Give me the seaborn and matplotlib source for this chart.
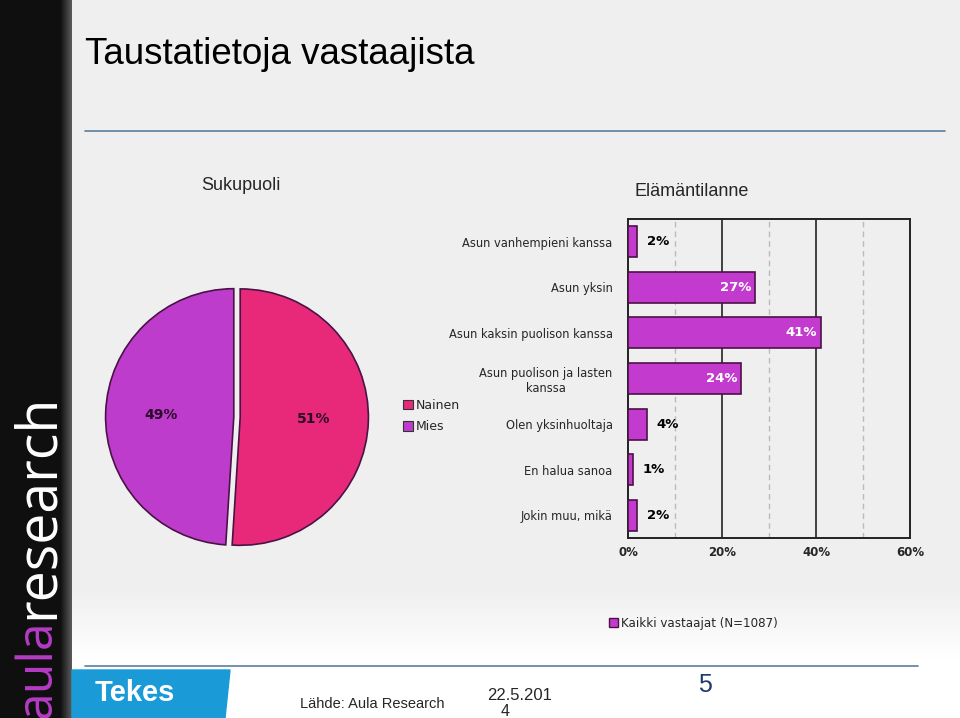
import numpy as np
import matplotlib
matplotlib.use("Agg")
import matplotlib.pyplot as plt
import seaborn as sns
from matplotlib.patches import Rectangle, Polygon

# Data
gender_labels = ['Nainen', 'Mies']
gender_values = [51, 49]
gender_colors = ['#e8297a', '#be3ccb']

life_cats = ['Asun vanhempieni kanssa', 'Asun yksin', 'Asun kaksin puolison kanssa',
             'Asun puolison ja lasten\nkanssa', 'Olen yksinhuoltaja', 'En halua sanoa',
             'Jokin muu, mikä']
life_values = [2, 27, 41, 24, 4, 1, 2]
xticks = [0, 20, 40, 60]

W, H = 960, 718

sns.set_theme(style='white')
plt.rcParams['font.family'] = ['DejaVu Sans']


def box(x0, y0, x1, y1):
    # pixel box (top-left origin) -> figure fraction rect
    return [x0 / W, 1 - y1 / H, (x1 - x0) / W, (y1 - y0) / H]


fig = plt.figure(figsize=(W / 100, H / 100), dpi=100)

# background
bg = fig.add_axes([0, 0, 1, 1])
bg.axis('off')
grad = np.linspace(0, 1, 200).reshape(-1, 1)
bg.imshow(np.clip((grad - 0.82) / 0.1, 0, 1), cmap=matplotlib.colors.LinearSegmentedColormap.from_list(
    'g', ['#efefef', '#ffffff']), extent=[72, W, H, 0], aspect='auto', zorder=0)
# dark side strip
strip = np.tile(np.concatenate([np.full(60, 0.06), np.linspace(0.06, 0.35, 12)]), (10, 1))
bg.imshow(strip, cmap='gray', vmin=0, vmax=1, extent=[0, 72, H, 0], aspect='auto', zorder=1)
bg.set_xlim(0, W)
bg.set_ylim(H, 0)
bg.text(38, 619, 'aula', rotation=90, color='#b43cc4', fontsize=36, ha='center', va='top',
        family='Open Sans', zorder=3)
bg.text(38, 619, 'research', rotation=90, color='white', fontsize=40, ha='center', va='bottom',
        family='Open Sans', zorder=3)

# title and lines
bg.text(85, 55, 'Taustatietoja vastaajista', fontsize=26.5, color='black', va='center',
        family='Liberation Sans')
bg.plot([85, 945], [131, 131], color='#5b7f9e', lw=1.2)
bg.plot([85, 918], [666, 666], color='#5b7f9e', lw=1.2)

# footer
bg.add_patch(Polygon([[72, 670], [230, 670], [225, 718], [72, 718]], closed=True,
                     color='#1a9ad6', zorder=2))
bg.text(95, 693, 'Tekes', color='white', fontsize=21, fontweight='bold', va='center',
        family='Liberation Sans', zorder=3)
bg.text(300, 704, 'Lähde: Aula Research', fontsize=10.5, va='center', family='Liberation Sans')
bg.text(520, 695, '22.5.201', fontsize=12, ha='center', va='center', family='Liberation Sans')
bg.text(505, 712, '4', fontsize=11.5, ha='center', va='center', family='Liberation Sans')
bg.text(705, 685, '5', fontsize=18, color='#1f3a6e', ha='center', va='center',
        family='Liberation Sans')

# pie chart
bg.text(241, 186, 'Sukupuoli', fontsize=13, ha='center', va='center', family='Liberation Sans')
axp = fig.add_axes(box(87, 267, 387, 567))
wedges, _, autotexts = axp.pie(gender_values, colors=gender_colors, startangle=90, counterclock=False,
                               explode=[0.025, 0.025], autopct='%d%%', pctdistance=0.57,
                               wedgeprops=dict(edgecolor='#4a1245', linewidth=1.2),
                               textprops=dict(fontsize=10, fontweight='bold', color='#2a0a2a'))
axp.set_xlim(-1.17, 1.17)
axp.set_ylim(-1.17, 1.17)
axp.set_aspect('equal')
leg = axp.legend(wedges, gender_labels, loc='center left', bbox_to_anchor=(397 / W, 1 - 416 / H),
                 bbox_transform=fig.transFigure, frameon=False, fontsize=9, handlelength=0.8,
                 handleheight=0.8, handletextpad=0.2, labelspacing=0.7, borderpad=0)
for lh in leg.legend_handles:
    lh.set_edgecolor('#333333')
    lh.set_linewidth(0.8)

# bar chart
bg.text(692, 192, 'Elämäntilanne', fontsize=13, ha='center', va='center', family='Liberation Sans')
axb = fig.add_axes(box(628, 219, 910, 538))
sns.barplot(x=life_values, y=life_cats, color='#c23bce', width=0.68, edgecolor='#4a1245',
            linewidth=1.2, saturation=1, ax=axb, zorder=3)
axb.set_xlim(0, 60)
axb.set_xticks(xticks)
axb.set_xticklabels([f'{t}%' for t in xticks], fontsize=8.5, fontweight='bold')
axb.grid(False)
for v in [20, 40]:
    axb.axvline(v, color='#333333', lw=1.3, zorder=1)
for v in [10, 30, 50]:
    axb.axvline(v, color='#bbbbbb', lw=1, ls=(0, (4, 3)), zorder=1)
axb.set_facecolor('none')
for s in axb.spines.values():
    s.set_color('#222222')
    s.set_linewidth(1.4)
axb.tick_params(axis='both', length=0, pad=6)
axb.tick_params(axis='y', pad=11)
for lab in axb.get_yticklabels():
    lab.set_fontsize(8.3)
    lab.set_multialignment('center')
for i, v in enumerate(life_values):
    if v > 10:
        axb.text(v - 0.8, i, f'{v}%', color='white', ha='right', va='center', fontsize=9.5,
                 fontweight='bold', zorder=4)
    else:
        axb.text(v + 2, i, f'{v}%', color='black', ha='left', va='center', fontsize=9.5,
                 fontweight='bold', zorder=4)

# bar legend
bg.add_patch(Rectangle((609, 618), 9, 9, facecolor='#c23bce', edgecolor='#4a1245', lw=1, zorder=3))
bg.text(621, 623, 'Kaikki vastaajat (N=1087)', fontsize=8.6, va='center', zorder=3)

fig.savefig('out.png', dpi=100)
